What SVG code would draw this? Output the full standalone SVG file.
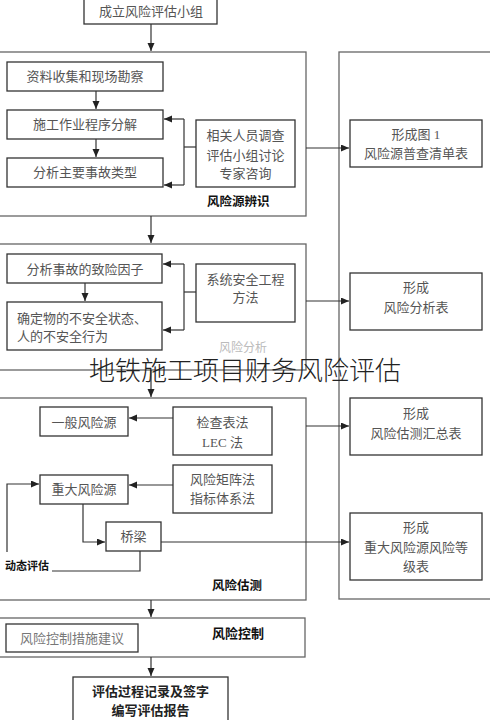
<svg xmlns="http://www.w3.org/2000/svg" width="490" height="720" viewBox="0 0 490 720">
<style>
.bg{fill:#fff}
.box{fill:#fff;stroke:#333;stroke-width:1.3}
.sec{fill:none;stroke:#666;stroke-width:1.3}
.ln{fill:none;stroke:#333;stroke-width:1.2}
.t{font-family:"Liberation Serif","Noto Sans CJK SC",serif;font-size:13px;fill:#555;text-anchor:middle}
.tl{font-family:"Liberation Serif","Noto Sans CJK SC",serif;font-size:13px;fill:#555}
.b{font-family:"Liberation Sans","Noto Sans CJK SC",sans-serif;font-size:12.5px;font-weight:bold;fill:#111}
.bt{font-family:"Liberation Sans","Noto Sans CJK SC",sans-serif;font-size:13px;font-weight:bold;fill:#222;text-anchor:middle}
.wm{font-family:"Noto Sans CJK SC",sans-serif;font-size:26px;font-weight:300;fill:#222;text-anchor:middle}
</style>
<defs>
<marker id="ah" markerUnits="userSpaceOnUse" markerWidth="9" markerHeight="8" refX="8" refY="3.5" orient="auto">
<path d="M0,0 L8,3.5 L0,7 z" fill="#222"/>
</marker>
</defs>
<rect class="bg" x="0" y="0" width="490" height="720"/>

<g id="sections">
<rect id="sec-identify" class="sec" x="-5" y="52" width="311" height="164"/>
<rect id="sec-analysis" class="sec" x="-5" y="244" width="311" height="126"/>
<rect id="sec-estimate" class="sec" x="-5" y="398" width="311" height="202"/>
<rect id="sec-control" class="sec" x="-5" y="618" width="310" height="39"/>
<rect id="right-column" class="sec" x="339" y="52" width="160" height="547"/>
</g>

<g id="connectors">
<line class="ln" x1="151" y1="24" x2="151" y2="51" marker-end="url(#ah)"/>
<line class="ln" x1="96" y1="91" x2="96" y2="109" marker-end="url(#ah)"/>
<line class="ln" x1="96" y1="139" x2="96" y2="157" marker-end="url(#ah)"/>
<line class="ln" x1="196" y1="147" x2="184" y2="147"/>
<line class="ln" x1="184" y1="119" x2="184" y2="185"/>
<line class="ln" x1="184" y1="119" x2="164" y2="119" marker-end="url(#ah)"/>
<line class="ln" x1="184" y1="185" x2="164" y2="185" marker-end="url(#ah)"/>
<line class="ln" x1="306" y1="148" x2="349" y2="148" marker-end="url(#ah)"/>
<line class="ln" x1="151" y1="216" x2="151" y2="243" marker-end="url(#ah)"/>
<line class="ln" x1="85" y1="283" x2="85" y2="301" marker-end="url(#ah)"/>
<line class="ln" x1="196" y1="292" x2="184" y2="292"/>
<line class="ln" x1="184" y1="264" x2="184" y2="330"/>
<line class="ln" x1="184" y1="264" x2="163" y2="264" marker-end="url(#ah)"/>
<line class="ln" x1="184" y1="330" x2="163" y2="330" marker-end="url(#ah)"/>
<line class="ln" x1="306" y1="301" x2="349" y2="301" marker-end="url(#ah)"/>
<line class="ln" x1="151" y1="370" x2="151" y2="397" marker-end="url(#ah)"/>
<line class="ln" x1="173" y1="418" x2="129" y2="418" marker-end="url(#ah)"/>
<line class="ln" x1="173" y1="485" x2="129" y2="485" marker-end="url(#ah)"/>
<polyline class="ln" points="83,504 83,542 105,542" marker-end="url(#ah)"/>
<line class="ln" x1="161" y1="542" x2="349" y2="542" marker-end="url(#ah)"/>
<polyline class="ln" points="140,551 140,571 52,571"/>
<polyline class="ln" points="7,552 7,484 39,484" marker-end="url(#ah)"/>
<line class="ln" x1="306" y1="426" x2="349" y2="426" marker-end="url(#ah)"/>
<line class="ln" x1="151" y1="600" x2="151" y2="617" marker-end="url(#ah)"/>
<line class="ln" x1="151" y1="657" x2="151" y2="676" marker-end="url(#ah)"/>
</g>

<g id="n-start"><rect class="box" x="84" y="-2" width="133" height="26"/><text class="t" x="151" y="15.5">成立风险评估小组</text></g>
<g id="n-collect"><rect class="box" x="7" y="62" width="156" height="29"/><text class="t" x="85" y="81">资料收集和现场勘察</text></g>
<g id="n-decompose"><rect class="box" x="7" y="110" width="156" height="29"/><text class="t" x="85" y="129">施工作业程序分解</text></g>
<g id="n-types"><rect class="box" x="7" y="158" width="156" height="29"/><text class="t" x="85" y="177">分析主要事故类型</text></g>
<g id="n-survey"><rect class="box" x="196" y="120" width="99" height="67"/><text class="t" x="245.5" y="139.5">相关人员调查</text><text class="t" x="245.5" y="159.5">评估小组讨论</text><text class="t" x="245.5" y="178">专家咨询</text></g>
<g id="l-identify"><text class="b" x="207" y="205.5">风险源辨识</text></g>

<g id="n-factors"><rect class="box" x="7" y="254" width="155" height="29"/><text class="t" x="85" y="273.5">分析事故的致险因子</text></g>
<g id="n-unsafe"><rect class="box" x="7" y="302" width="155" height="48"/><text class="tl" x="17" y="322.5">确定物的不安全状态、</text><text class="tl" x="17" y="340.5">人的不安全行为</text></g>
<g id="n-syseng"><rect class="box" x="196" y="264" width="99" height="58"/><text class="t" x="245.5" y="283.5">系统安全工程</text><text class="t" x="245.5" y="301.5">方法</text></g>
<g id="l-analysis"><text class="tl" x="219" y="352" style="fill:#bbb;font-size:12px">风险分析</text></g>

<g id="n-general"><rect class="box" x="40" y="407" width="88" height="29"/><text class="t" x="84" y="426.5">一般风险源</text></g>
<g id="n-lec"><rect class="box" x="173" y="407" width="99" height="48"/><text class="t" x="222.5" y="426.5">检查表法</text><text class="t" x="222.5" y="446.5">LEC 法</text></g>
<g id="n-major"><rect class="box" x="40" y="475" width="88" height="29"/><text class="t" x="84" y="493.5">重大风险源</text></g>
<g id="n-matrix"><rect class="box" x="173" y="465" width="99" height="48"/><text class="t" x="222.5" y="483.5">风险矩阵法</text><text class="t" x="222.5" y="502.5">指标体系法</text></g>
<g id="n-bridge"><rect class="box" x="106" y="522" width="55" height="29"/><text class="t" x="133.5" y="540.5">桥梁</text></g>
<g id="l-dynamic"><text class="b" x="5" y="570" style="font-size:11px">动态评估</text></g>
<g id="l-estimate"><text class="b" x="212" y="589.5">风险估测</text></g>

<g id="n-measures"><rect class="box" x="6" y="624" width="132" height="28"/><text class="t" x="72" y="642.5" style="fill:#777">风险控制措施建议</text></g>
<g id="l-control"><text class="b" x="212" y="637.5" style="font-size:13px">风险控制</text></g>

<g id="n-report"><rect class="box" x="73" y="677" width="155" height="50"/><text class="bt" x="150.5" y="695.5">评估过程记录及签字</text><text class="bt" x="150.5" y="714.5">编写评估报告</text></g>

<g id="n-out1"><rect class="box" x="350" y="120" width="132" height="47"/><text class="t" x="416" y="138.5">形成图 1</text><text class="t" x="416" y="157.5">风险源普查清单表</text></g>
<g id="n-out2"><rect class="box" x="350" y="273" width="132" height="57"/><text class="t" x="416" y="291.5">形成</text><text class="t" x="416" y="311.5">风险分析表</text></g>
<g id="n-out3"><rect class="box" x="350" y="398" width="132" height="57"/><text class="t" x="416" y="417.5">形成</text><text class="t" x="416" y="437.5">风险估测汇总表</text></g>
<g id="n-out4"><rect class="box" x="350" y="513" width="132" height="67"/><text class="t" x="416" y="531.5">形成</text><text class="t" x="416" y="551.5">重大风险源风险等</text><text class="t" x="416" y="570.5">级表</text></g>

<g id="watermark"><text class="wm" x="245" y="380">地铁施工项目财务风险评估</text></g>
</svg>
